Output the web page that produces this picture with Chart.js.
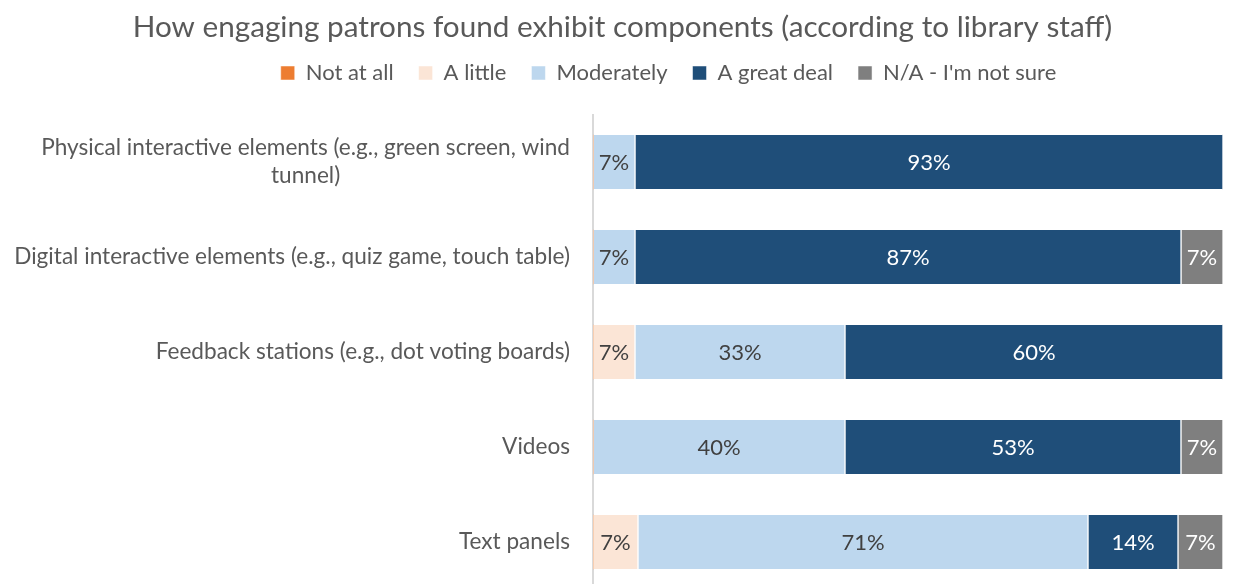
<!DOCTYPE html>
<html>
<head>
<meta charset="utf-8">
<script src="https://cdn.jsdelivr.net/npm/chart.js@4/dist/chart.umd.min.js"></script>
<style>
  html, body { margin: 0; padding: 0; background: #fff; overflow: hidden; }
  #wrap { width: 1233px; height: 584px; overflow: hidden; position: relative; }
  #box { width: 1233px; height: 600px; position: absolute; left: 0; top: 0; }
</style>
</head>
<body>
<div id="wrap"><div id="box"><canvas id="c"></canvas></div></div>
<script>
// Exhibit components (rows) and share of staff responses per rating (%)
const categories = [
  ["Physical interactive elements (e.g., green screen, wind", "tunnel)"],
  "Digital interactive elements (e.g., quiz game, touch table)",
  "Feedback stations (e.g., dot voting boards)",
  "Videos",
  "Text panels"
];
const seriesNames = ["Not at all", "A little", "Moderately", "A great deal", "N/A - I'm not sure"];
const notAtAll   = [0, 0, 0, 0, 0];
const aLittle    = [0, 0, 6.67, 0, 7.14];
const moderately = [6.67, 6.67, 33.33, 40, 71.43];
const greatDeal  = [93.33, 86.67, 60, 53.33, 14.29];
const notSure    = [0, 6.67, 0, 6.67, 7.14];

const FONT = "Lato";
const TEXT = "#595959";
const LABEL_SIZE = 22.6;
const VALUE_SIZE = 22;

const colors = ["#ED7D31", "#FBE5D6", "#BDD7EE", "#1F4E79", "#7F7F7F"];
const labelColors = ["#404040", "#404040", "#404040", "#FFFFFF", "#FFFFFF"];
const values = [notAtAll, aLittle, moderately, greatDeal, notSure];

const datasets = seriesNames.map((name, i) => ({
  label: name,
  data: values[i],
  backgroundColor: colors[i],
  borderColor: "#FFFFFF",
  borderWidth: { left: 1, right: 1, top: 0, bottom: 0 },
  borderSkipped: false,
  barThickness: 54,
  labelColor: labelColors[i]
}));

// Percent text centred in each segment
const segmentLabels = {
  id: "segmentLabels",
  afterDatasetsDraw(chart) {
    const ctx = chart.ctx;
    ctx.save();
    ctx.font = `${VALUE_SIZE}px ${FONT}`;
    ctx.textAlign = "center";
    ctx.textBaseline = "middle";
    chart.data.datasets.forEach((ds, di) => {
      const meta = chart.getDatasetMeta(di);
      if (meta.hidden) return;
      meta.data.forEach((el, i) => {
        const v = ds.data[i];
        if (!v) return;
        ctx.fillStyle = ds.labelColor;
        ctx.fillText(Math.round(v) + "%", (el.x + el.base) / 2, el.y + 1);
      });
    });
    ctx.restore();
  }
};

// Category names: right edge fixed, wrapped lines centred on each other
const categoryLabels = {
  id: "categoryLabels",
  afterDraw(chart) {
    const y = chart.scales.y;
    const ctx = chart.ctx;
    ctx.save();
    ctx.font = `${LABEL_SIZE}px ${FONT}`;
    ctx.fillStyle = TEXT;
    ctx.textBaseline = "middle";
    ctx.textAlign = "center";
    const right = y.right - 23;
    const lh = 28;
    chart.data.labels.forEach((lab, i) => {
      const lines = Array.isArray(lab) ? lab : [lab];
      const w = Math.max(...lines.map(l => ctx.measureText(l).width));
      const cx = right - w / 2;
      const cy = y.getPixelForTick(i);
      lines.forEach((l, k) => {
        ctx.fillText(l, cx, cy + (k - (lines.length - 1) / 2) * lh);
      });
    });
    ctx.restore();
  }
};

// Fixed heights for the title and legend bands, plus horizontal nudges
const TITLE_BAND = 37;
const PLOT_TOP = 114.5;
const headerBands = {
  id: "headerBands",
  afterInit(chart) {
    const t = chart.titleBlock, l = chart.legend;
    if (t) {
      const upd = t.update;
      t.update = function (...args) { upd.apply(this, args); this.height = TITLE_BAND; };
    }
    if (l) {
      const fitL = l.fit;
      l.fit = function () { fitL.call(this); this.height = PLOT_TOP - TITLE_BAND; };
    }
  },
  afterLayout(chart) {
    const t = chart.titleBlock, l = chart.legend;
    if (t) { t.left += 11; t.right += 11; }
    if (l) { l.left += 57; l.right += 57; }
  }
};

new Chart(document.getElementById("c"), {
  type: "bar",
  data: { labels: categories, datasets },
  plugins: [segmentLabels, categoryLabels, headerBands],
  options: {
    indexAxis: "y",
    responsive: true,
    maintainAspectRatio: false,
    animation: false,
    layout: { padding: { left: 0, right: 10, top: 0, bottom: 10.5 } },
    scales: {
      x: { stacked: true, min: 0, max: 100, display: false },
      y: {
        stacked: true,
        grid: { display: false, drawTicks: false },
        border: { display: true, color: "#D9D9D9", width: 2 },
        ticks: { display: false },
        afterFit(scale) { scale.width = 593; }
      }
    },
    plugins: {
      tooltip: { enabled: false },
      title: {
        display: true,
        text: "How engaging patrons found exhibit components (according to library staff)",
        color: TEXT,
        font: { family: FONT, size: 29.7, weight: "normal" },
        padding: { top: 9.2, bottom: 0 }
      },
      legend: {
        position: "top",
        labels: {
          color: TEXT,
          font: { family: FONT, size: 22 },
          boxWidth: 14,
          boxHeight: 14,
          padding: 25
        }
      }
    }
  }
});
</script>
</body>
</html>
